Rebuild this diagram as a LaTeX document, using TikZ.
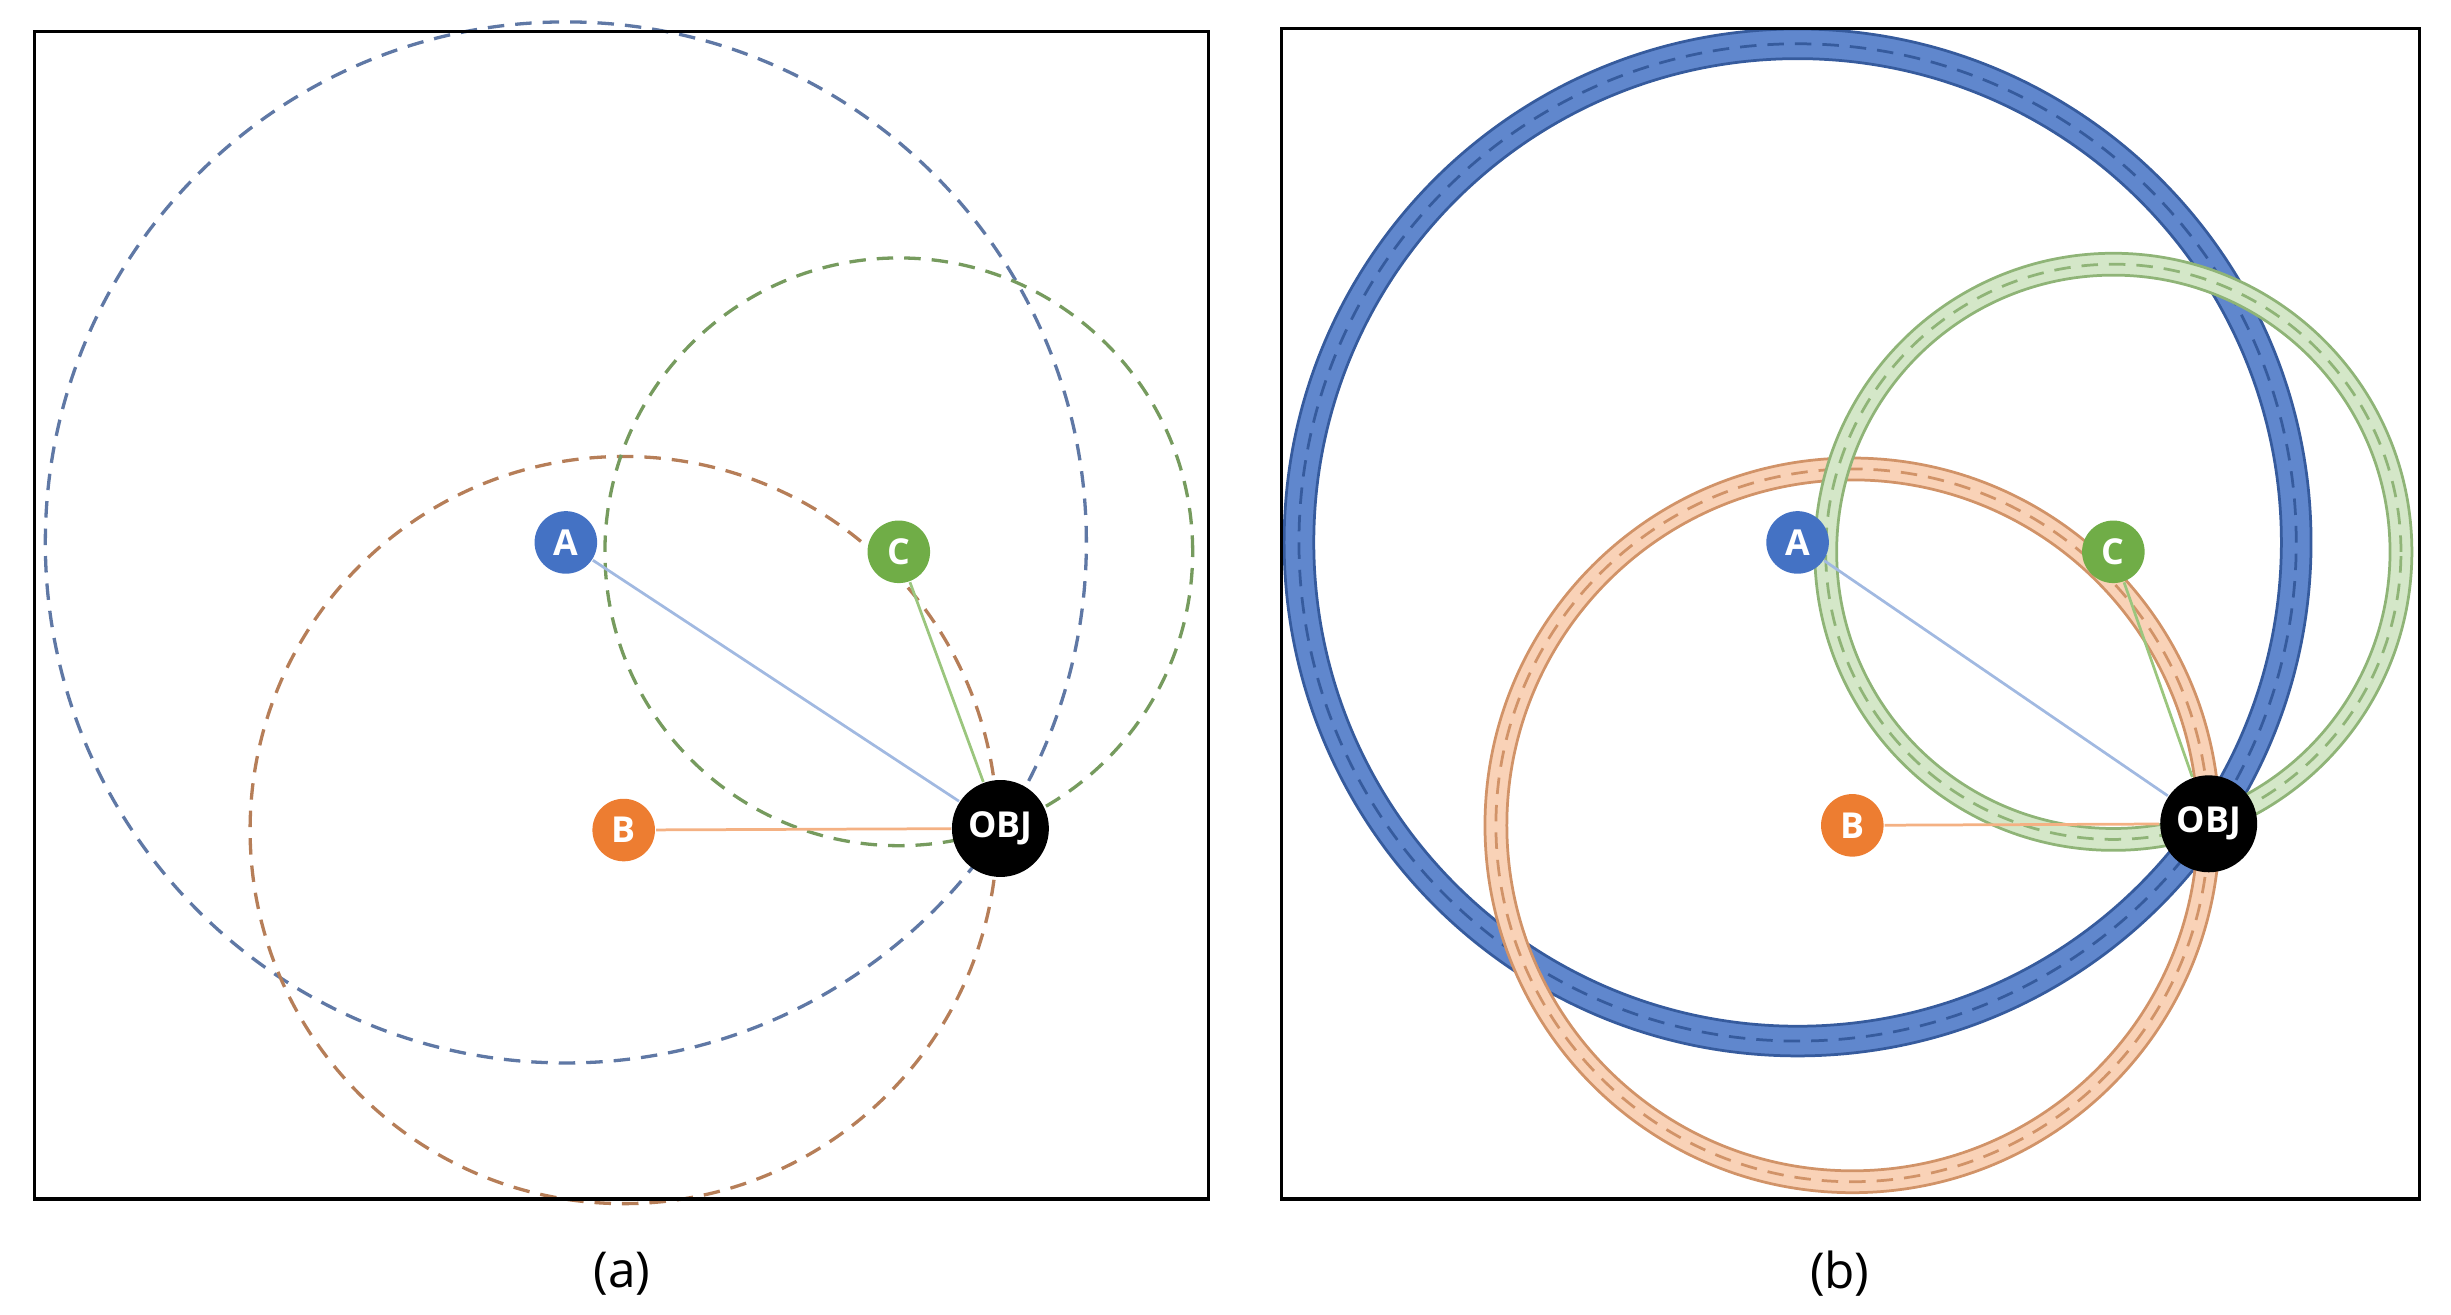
\documentclass[tikz,border=0pt]{standalone}
\usepackage{fontspec}
\setmainfont{Open Sans}
\usetikzlibrary{backgrounds}
\definecolor{blueA}{HTML}{4472C4}
\definecolor{orangeB}{HTML}{ED7D31}
\definecolor{greenC}{HTML}{70AD47}
\tikzset{
  anchor pt/.style={circle,fill=#1,text=white,inner sep=0pt,minimum size=0.4cm,font=\bfseries\fontsize{6.5}{7}\selectfont},
  obj pt/.style={circle,fill=black,text=white,inner sep=0pt,minimum size=0.62cm,font=\bfseries\fontsize{6.5}{7}\selectfont},
  dist circle/.style={line width=0.6pt,dash pattern=on 3pt off 2pt},
  link/.style={line width=0.5pt}
}
% ring: node, outline colour, band colour, radius, half band width
\newcommand{\rangering}[5]{%
  \draw[line width=#5*0.02cm,#3] (#1) circle[radius=#4];
  \draw[line width=0.5pt,#2] (#1) circle[radius=#4+#5] (#1) circle[radius=#4-#5];
  \draw[dist circle,line width=0.5pt,#2] (#1) circle[radius=#4];
}
\begin{document}
\begin{tikzpicture}[x=0.01cm,y=0.01cm]
  \useasboundingbox (0,0) rectangle (1568,-841);
  % (a)
  \draw[line width=0.6pt] (22,-20) rectangle (773,-767);
  \node[anchor pt=blueA] (a) at (362,-347) {A};
  \node[anchor pt=greenC] (c) at (575,-353) {C};
  \node[anchor pt=orangeB] (b) at (399,-531) {B};
  \node[obj pt] (obja) at (640,-530) {OBJ};
  \begin{scope}[on background layer]
    \draw[dist circle,color=blueA!55!gray] (a) circle[radius=333];
    \draw[dist circle,color=orangeB!50!gray] (b) circle[radius=239];
    \draw[dist circle,color=greenC!60!gray] (c) circle[radius=188];
  \end{scope}
  \draw[link,blueA!50] (a) -- (obja);
  \draw[link,orangeB!60] (b) -- (obja);
  \draw[link,greenC!70] (c) -- (obja);
  \node at (398,-815) {\fontsize{9}{10}\selectfont (a)};
  % (b)
  \draw[line width=0.6pt] (820,-18) rectangle (1548,-767);
  \node[anchor pt=blueA] (aa) at (1150,-347) {A};
  \node[anchor pt=greenC] (cc) at (1352,-353) {C};
  \node[anchor pt=orangeB] (bb) at (1185,-528) {B};
  \node[obj pt] (obj) at (1413,-527) {OBJ};
  \begin{scope}[on background layer]
    \rangering{aa}{blueA!80!black}{blueA!85}{319}{9.5}
    \rangering{bb}{orangeB!80!black!70}{orangeB!35}{228}{7}
    \rangering{cc}{greenC!85!black!70}{greenC!30}{184}{7}
  \end{scope}
  \draw[link,blueA!50] (aa) -- (obj);
  \draw[link,orangeB!60] (bb) -- (obj);
  \draw[link,greenC!70] (cc) -- (obj);
  \node at (1177,-815) {\fontsize{9}{10}\selectfont (b)};
\end{tikzpicture}
\end{document}
